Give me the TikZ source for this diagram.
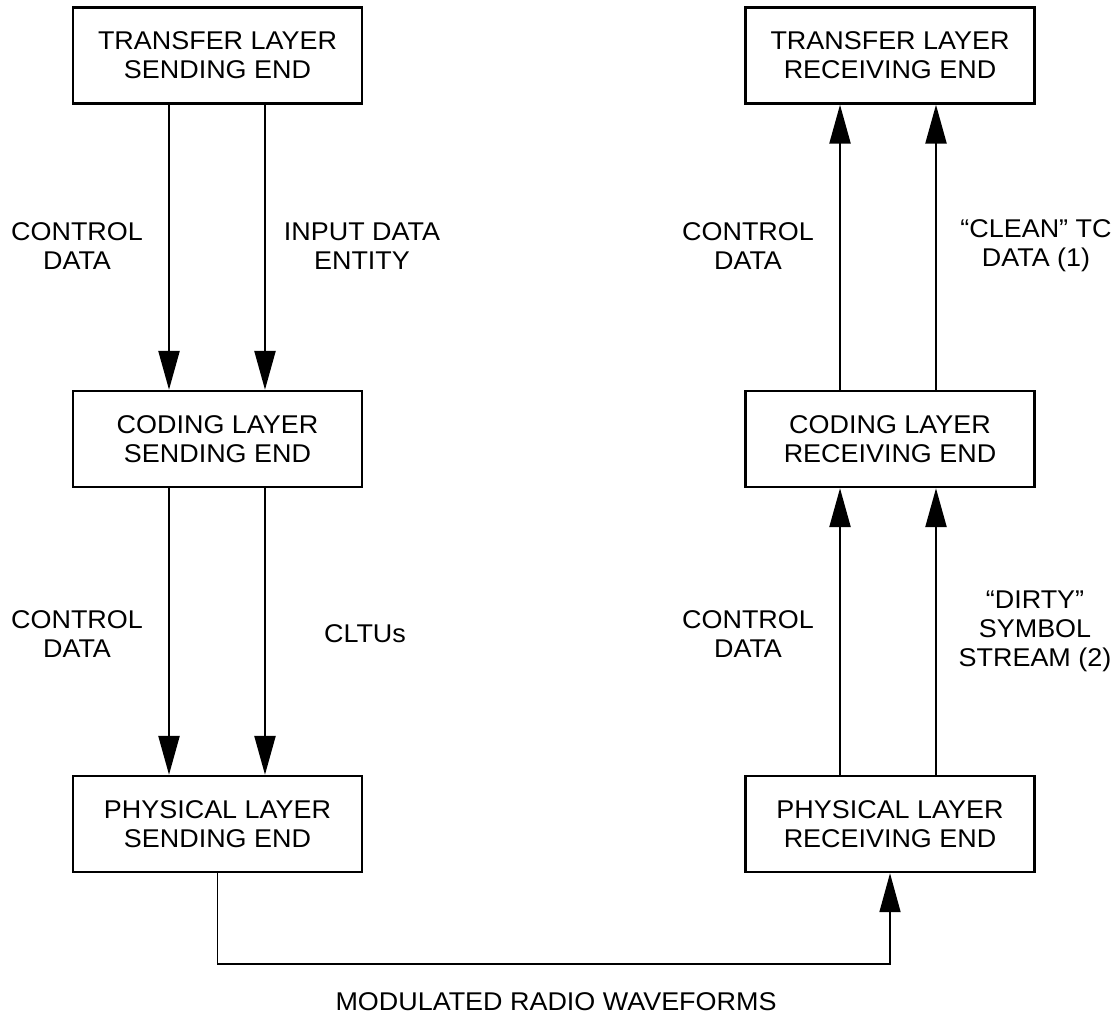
\documentclass[tikz,border=0pt]{standalone}
\usepackage{fontspec}
\setmainfont[FakeStretch=1.05]{Liberation Sans}
\usetikzlibrary{arrows.meta}
\tikzset{
	layer/.style={draw, line width=1.4pt, minimum width=5.78cm, minimum height=1.92cm, inner sep=0pt, align=center},
	flow/.style={line width=1.4pt, -{Triangle[length=0.78cm, width=0.42cm]}},
	lbl/.style={align=center, inner sep=0pt}
}
\begin{document}
\begin{tikzpicture}[x=0.02cm, y=-0.02cm, font=\fontsize{14.6}{16.5}\selectfont]
	\useasboundingbox (0,0) rectangle (1115,1018);
	%sending end
	\node[layer] (ts) at (217.5,55.5) {TRANSFER LAYER\\SENDING END};
	\node[layer] (cs) at (217.5,439) {CODING LAYER\\SENDING END};
	\node[layer] (ps) at (217.5,824) {PHYSICAL LAYER\\SENDING END};
	%receiving end
	\node[layer] (tr) at (890,55.5) {TRANSFER LAYER\\RECEIVING END};
	\node[layer] (cr) at (890,439) {CODING LAYER\\RECEIVING END};
	\node[layer] (pr) at (890,824) {PHYSICAL LAYER\\RECEIVING END};
	%flows down
	\foreach \a/\b in {ts/cs, cs/ps}
	{
		\draw[flow] ([xshift=-0.97cm]\a.south) -- ([xshift=-0.97cm]\b.north);
		\draw[flow] ([xshift=0.95cm]\a.south) -- ([xshift=0.95cm]\b.north);
	}
	%flows up
	\foreach \a/\b in {pr/cr, cr/tr}
	{
		\draw[flow] ([xshift=-1cm]\a.north) -- ([xshift=-1cm]\b.south);
		\draw[flow] ([xshift=0.92cm]\a.north) -- ([xshift=0.92cm]\b.south);
	}
	%link
	\draw[flow, line width=1pt] (ps.south) -- ++(0,91) -| (pr.south);
	%labels
	\node[lbl] (ctl1) at (77,246) {CONTROL\\DATA};
	\node[lbl] (ide) at (362,246) {INPUT DATA\\ENTITY};
	\node[lbl] (ctl2) at (77,634) {CONTROL\\DATA};
	\node[lbl] (cltu) at (365,634) {CLTUs};
	\node[lbl] (ctl3) at (748,246) {CONTROL\\DATA};
	\node[lbl] (clean) at (1036,246) {“CLEAN” TC\\DATA (1)};
	\node[lbl] (ctl4) at (748,634) {CONTROL\\DATA};
	\node[lbl] (dirty) at (1035,631) {“DIRTY”\\SYMBOL\\STREAM (2)};
	\node[lbl] (mrw) at (556,1002) {MODULATED RADIO WAVEFORMS};
\end{tikzpicture}
\end{document}
